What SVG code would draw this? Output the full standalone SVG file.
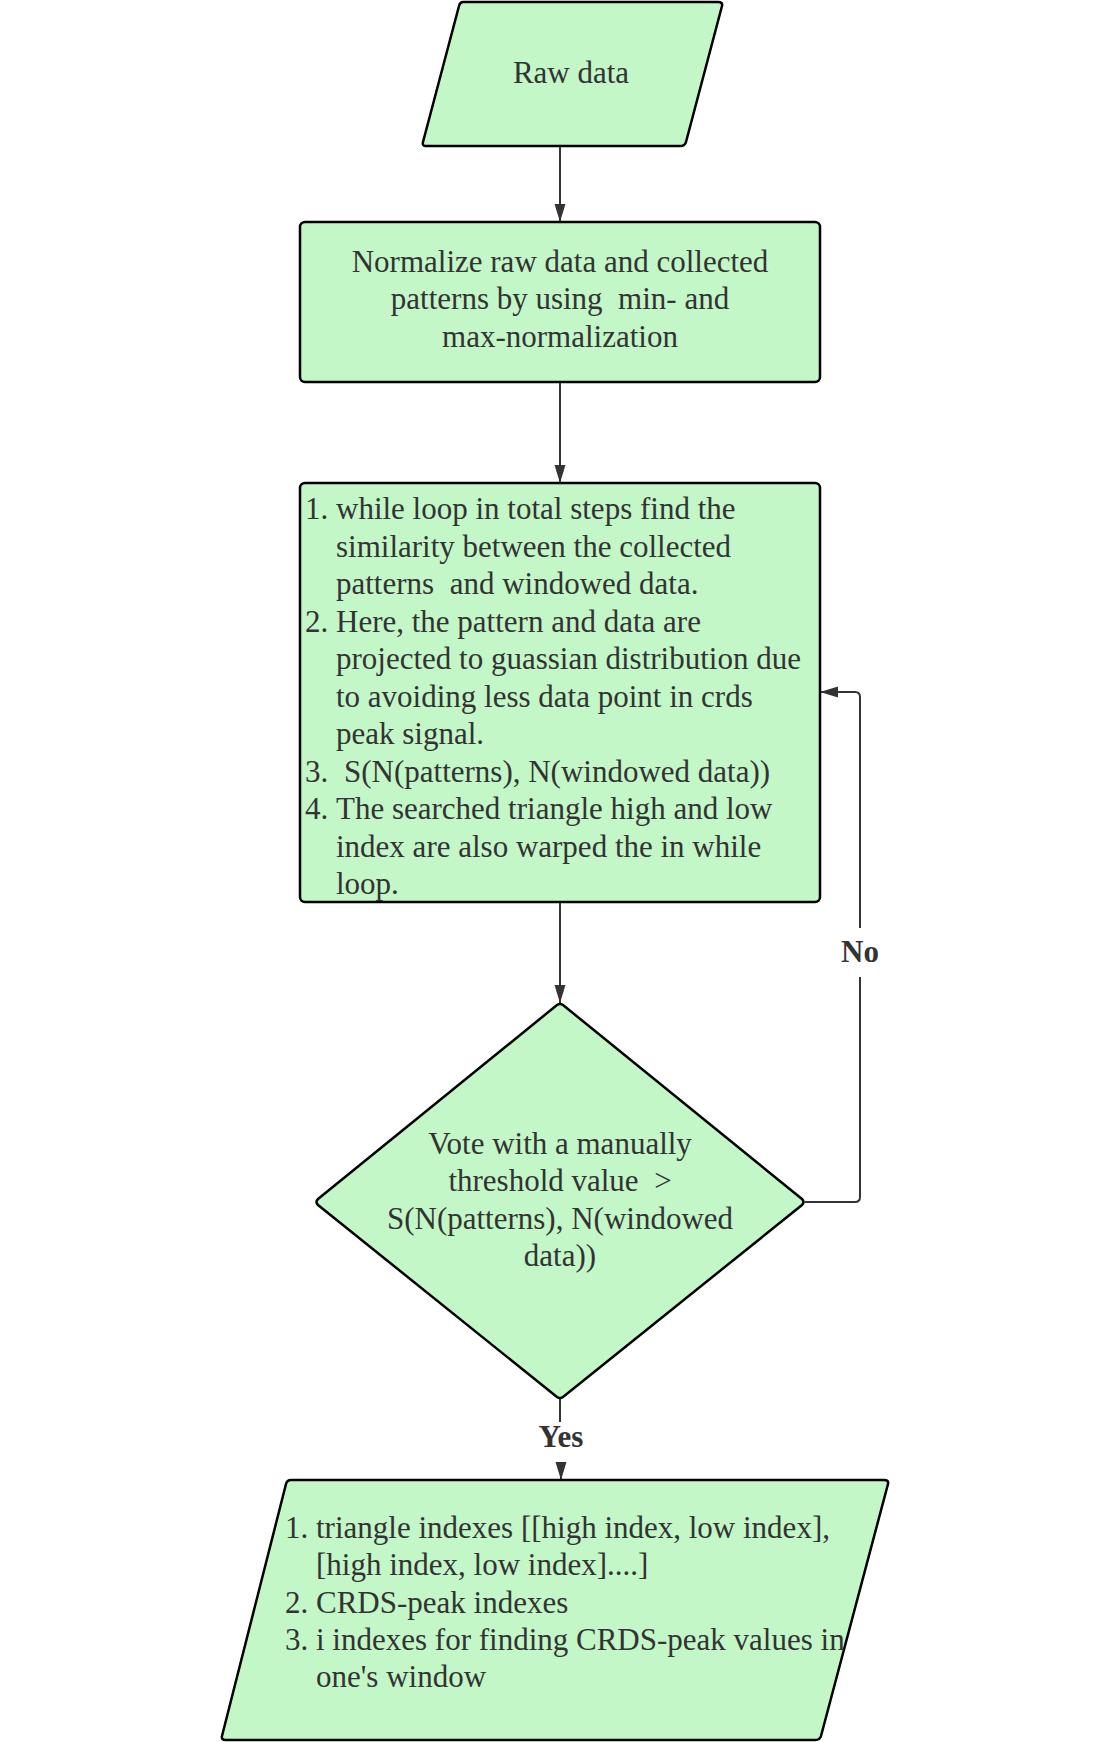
<svg xmlns="http://www.w3.org/2000/svg" width="1100" height="1742" viewBox="0 0 1100 1742">
  <style>
    .shape { fill: #c3f7c8; stroke: #000; stroke-width: 2.5; stroke-linejoin: round; }
    .txt { font-family: "Liberation Serif", "Times New Roman", serif; font-size: 31px; fill: #333; white-space: pre; }
    .c { text-anchor: middle; }
    .lbl { font-family: "Liberation Serif", "Times New Roman", serif; font-size: 31px; font-weight: bold; fill: #333; text-anchor: middle; }
    .conn { fill: none; stroke: #333; stroke-width: 2; }
  </style>
  <defs>
    <marker id="arrow" markerUnits="userSpaceOnUse" markerWidth="18" markerHeight="12" refX="18" refY="5.5" orient="auto">
      <path d="M0,0 L18,5.5 L0,11 z" fill="#333"/>
    </marker>
  </defs>
  <rect x="0" y="0" width="1100" height="1742" fill="#ffffff"/>

  <g id="connectors">
    <path class="conn" d="M560,146 V222" marker-end="url(#arrow)"/>
    <path class="conn" d="M560,382 V483" marker-end="url(#arrow)"/>
    <path class="conn" d="M560,902 V1003" marker-end="url(#arrow)"/>
    <path class="conn" d="M805,1202 H855 Q860,1202 860,1197 V977 M860,928 V697 Q860,692 855,692 H820" marker-end="url(#arrow)"/>
    <path class="conn" d="M560,1399 V1422 M561,1463 V1480" marker-end="url(#arrow)"/>
    <text class="lbl" x="860" y="962">No</text>
    <text class="lbl" x="561" y="1447">Yes</text>
  </g>

  <g id="raw-data">
    <path class="shape" d="M463,2 H718 Q723,2 722,6 L686,142 Q685,146 680,146 H426 Q422,146 423,142 L459,6 Q460,2 463,2 Z"/>
    <text class="txt c" x="571" y="83">Raw data</text>
  </g>

  <g id="normalize">
    <rect class="shape" x="300" y="222" width="520" height="160" rx="5"/>
    <text class="txt c" x="560" y="272">Normalize raw data and collected</text>
    <text class="txt c" x="560" y="309">patterns by using  min- and</text>
    <text class="txt c" x="560" y="347">max-normalization</text>
  </g>

  <g id="similarity">
    <rect class="shape" x="300" y="483" width="520" height="419" rx="5"/>
    <text class="txt" x="305" y="519">1.</text>
    <text class="txt" x="336" y="519">while loop in total steps find the</text>
    <text class="txt" x="336" y="557">similarity between the collected</text>
    <text class="txt" x="336" y="594">patterns  and windowed data.</text>
    <text class="txt" x="305" y="632">2.</text>
    <text class="txt" x="336" y="632">Here, the pattern and data are</text>
    <text class="txt" x="336" y="669">projected to guassian distribution due</text>
    <text class="txt" x="336" y="707">to avoiding less data point in crds</text>
    <text class="txt" x="336" y="744">peak signal.</text>
    <text class="txt" x="305" y="782">3.</text>
    <text class="txt" x="344" y="782">S(N(patterns), N(windowed data))</text>
    <text class="txt" x="305" y="819">4.</text>
    <text class="txt" x="336" y="819">The searched triangle high and low</text>
    <text class="txt" x="336" y="857">index are also warped the in while</text>
    <text class="txt" x="336" y="894">loop.</text>
  </g>

  <g id="vote">
    <path class="shape" d="M557,1005 Q560,1003 563,1005 L802,1199 Q805,1202 802,1205 L563,1397 Q560,1399 557,1397 L318,1205 Q315,1202 318,1199 Z"/>
    <text class="txt c" x="560" y="1154">Vote with a manually</text>
    <text class="txt c" x="560" y="1191">threshold value  &gt;</text>
    <text class="txt c" x="560" y="1229">S(N(patterns), N(windowed</text>
    <text class="txt c" x="560" y="1266">data))</text>
  </g>

  <g id="output">
    <path class="shape" d="M291,1480 H884 Q889,1480 888,1484 L821,1736 Q820,1740 815,1740 H226 Q221,1740 222,1736 L286,1484 Q287,1480 291,1480 Z"/>
    <text class="txt" x="285" y="1538">1.</text>
    <text class="txt" x="316" y="1538">triangle indexes [[high index, low index],</text>
    <text class="txt" x="316" y="1575">[high index, low index]....]</text>
    <text class="txt" x="285" y="1613">2.</text>
    <text class="txt" x="316" y="1613">CRDS-peak indexes</text>
    <text class="txt" x="285" y="1650">3.</text>
    <text class="txt" x="316" y="1650">i indexes for finding CRDS-peak values in</text>
    <text class="txt" x="316" y="1687">one's window</text>
  </g>
</svg>
